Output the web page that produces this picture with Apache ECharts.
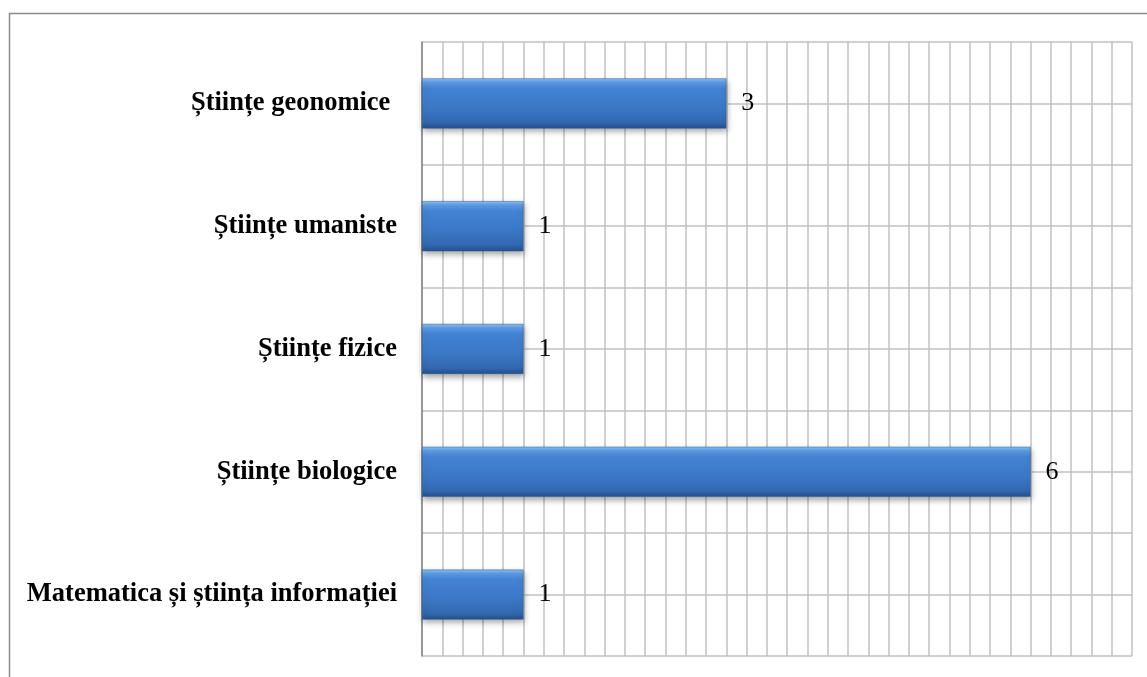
<!DOCTYPE html>
<html>
<head>
<meta charset="utf-8">
<script src="https://cdn.jsdelivr.net/npm/echarts@6/dist/echarts.min.js"></script>
<style>
html,body{margin:0;padding:0;background:#fff;}
#chart{width:1147px;height:677px;}
</style>
</head>
<body>
<div id="chart"></div>
<script>
var categories = ['Științe geonomice ', 'Științe umaniste', 'Științe fizice', 'Științe biologice', 'Matematica și știința informației'];
var values = [3, 1, 1, 6, 1];
var axisMax = 7;
var axisStep = 0.2;

var chart = echarts.init(document.getElementById('chart'));
var barColor = new echarts.graphic.LinearGradient(0, 0, 0, 1, [
  {offset: 0, color: '#8cc3f7'},
  {offset: 0.08, color: '#5d9be4'},
  {offset: 0.2, color: '#4283d3'},
  {offset: 0.6, color: '#3b77c5'},
  {offset: 0.88, color: '#3268b0'},
  {offset: 1, color: '#234f8a'}
]);
chart.setOption({
  animation: false,
  backgroundColor: '#fff',
  graphic: [{
    type: 'rect',
    shape: {x: 9.5, y: 13.5, width: 1200, height: 700},
    style: {fill: 'none', stroke: '#8c8c8c', lineWidth: 1.5},
    silent: true, z: -1
  }],
  grid: {left: 422, right: 15, top: 42, bottom: 21, containLabel: false},
  xAxis: {
    type: 'value', min: 0, max: axisMax, interval: axisStep,
    axisLabel: {show: false}, axisTick: {show: false}, axisLine: {show: false},
    splitLine: {show: true, lineStyle: {color: '#c0c0c0', width: 1.5}}
  },
  yAxis: [{
    type: 'category', data: categories, inverse: true,
    axisTick: {show: false},
    axisLine: {show: true, lineStyle: {color: '#858585', width: 1.5}},
    axisLabel: {margin: 25, fontFamily: 'Liberation Serif', fontWeight: 'bold', fontSize: 26.5, color: '#000'},
    splitLine: {show: false}
  }, {
    type: 'value', min: 0, max: categories.length * 2, interval: 1,
    position: 'right',
    axisLabel: {show: false}, axisTick: {show: false}, axisLine: {show: false},
    splitLine: {show: true, lineStyle: {color: '#c0c0c0', width: 1.5}}
  }],
  series: [{
    type: 'bar', data: values, yAxisIndex: 0, barWidth: 50,
    itemStyle: {
      color: barColor,
      borderColor: '#2c5a96', borderWidth: 0.5,
      shadowColor: 'rgba(0,0,0,0.35)', shadowBlur: 6, shadowOffsetX: 1, shadowOffsetY: 3
    },
    label: {show: true, position: 'right', distance: 15, fontFamily: 'Liberation Serif', fontSize: 26, color: '#000'}
  }]
});
</script>
</body>
</html>
